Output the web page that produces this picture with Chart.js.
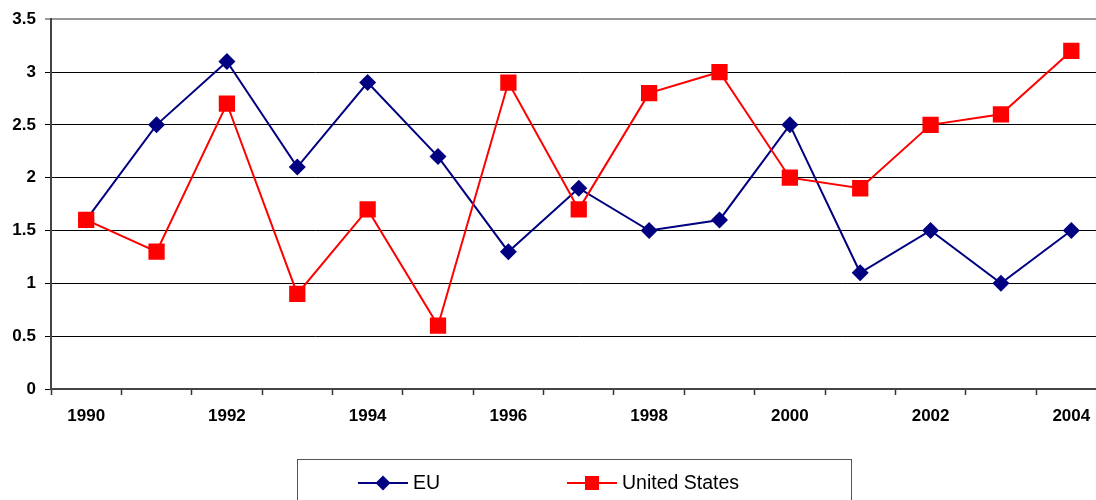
<!DOCTYPE html>
<html>
<head>
<meta charset="utf-8">
<script src="https://cdn.jsdelivr.net/npm/chart.js@4/dist/chart.umd.min.js"></script>
<style>
  html, body { margin: 0; background: #fff; overflow: hidden; }
  #wrap { width: 1118px; height: 500px; position: relative; }
</style>
</head>
<body>
<div id="wrap"><canvas id="myChart" width="1118" height="500"></canvas></div>
<script>
// data
var years = ['1990', '1991', '1992', '1993', '1994', '1995', '1996', '1997', '1998', '1999', '2000', '2001', '2002', '2003', '2004'];
var euValues = [1.6, 2.5, 3.1, 2.1, 2.9, 2.2, 1.3, 1.9, 1.5, 1.6, 2.5, 1.1, 1.5, 1.0, 1.5];
var usValues = [1.6, 1.3, 2.7, 0.9, 1.7, 0.6, 2.9, 1.7, 2.8, 3.0, 2.0, 1.9, 2.5, 2.6, 3.2];

var font = 'Liberation Sans, Arial, sans-serif';

// legend in a box at the bottom, line + marker like the original
const boxLegend = {
  id: 'boxLegend',
  afterDraw(chart) {
    const ctx = chart.ctx;
    ctx.save();
    ctx.strokeStyle = '#555';
    ctx.lineWidth = 1;
    ctx.strokeRect(297.5, 459.5, 554, 60);
    const slots = [358, 567];
    chart.data.datasets.forEach((ds, i) => {
      const x0 = slots[i], y = 483;
      ctx.strokeStyle = ds.borderColor;
      ctx.lineWidth = 2;
      ctx.beginPath();
      ctx.moveTo(x0, y);
      ctx.lineTo(x0 + 50, y);
      ctx.stroke();
      ctx.fillStyle = ds.pointBackgroundColor;
      const cx = x0 + 25;
      ctx.beginPath();
      if (ds.pointStyle === 'rectRot') {
        const r = 7.5;
        ctx.moveTo(cx, y - r); ctx.lineTo(cx + r, y); ctx.lineTo(cx, y + r); ctx.lineTo(cx - r, y);
      } else {
        ctx.rect(cx - 7, y - 7, 14, 14);
      }
      ctx.closePath();
      ctx.fill();
      ctx.fillStyle = '#000';
      ctx.font = '19.5px ' + font;
      ctx.textBaseline = 'middle';
      ctx.fillText(ds.label, x0 + 55, y + 1);
    });
    ctx.restore();
  }
};

const data = {
  labels: years,
  datasets: [{
    label: 'EU',
    data: euValues,
    borderColor: '#000080',
    backgroundColor: '#000080',
    pointBackgroundColor: '#000080',
    pointBorderColor: '#000080',
    pointStyle: 'rectRot',
    pointRadius: 8.5,
    pointBorderWidth: 0,
    borderWidth: 2,
    order: 1
  }, {
    label: 'United States',
    data: usValues,
    borderColor: '#ff0000',
    backgroundColor: '#ff0000',
    pointBackgroundColor: '#ff0000',
    pointBorderColor: '#ff0000',
    pointStyle: 'rect',
    pointRadius: 11.5,
    pointBorderWidth: 0,
    borderWidth: 2,
    order: 0
  }]
};

const config = {
  type: 'line',
  data: data,
  plugins: [boxLegend],
  options: {
    responsive: false,
    animation: false,
    // canvas is wider than the picture: the original plot runs past its right edge
    layout: { padding: { top: 19, right: 2, bottom: 70, left: 0 } },
    scales: {
      x: {
        offset: true,
        grid: { offset: true, drawOnChartArea: false, drawTicks: true, tickLength: 6, color: '#333', tickWidth: 1.5 },
        border: { color: '#444', width: 2 },
        ticks: {
          autoSkip: false,
          maxRotation: 0,
          color: '#000',
          padding: 11,
          font: { family: font, size: 17, weight: 'bold' },
          callback: function(val, idx) { return idx % 2 === 0 ? this.getLabelForValue(val) : ''; }
        },
        afterFit: function(scale) { scale.height = 41; }
      },
      y: {
        min: 0,
        max: 3.5,
        grid: {
          tickLength: 6,
          color: ctx => ctx.tick && ctx.tick.value === 3.5 ? '#999' : '#000',
          lineWidth: ctx => ctx.tick && ctx.tick.value === 3.5 ? 2 : 1
        },
        border: { color: '#444', width: 2 },
        ticks: {
          stepSize: 0.5,
          color: '#000',
          padding: 9,
          font: { family: font, size: 17, weight: 'bold' },
          callback: v => String(v)
        },
        afterFit: function(scale) { scale.width = 51; }
      }
    },
    plugins: {
      legend: { display: false },
      tooltip: { enabled: false }
    }
  }
};

let myChart = new Chart(document.getElementById('myChart'), config);
</script>
</body>
</html>
